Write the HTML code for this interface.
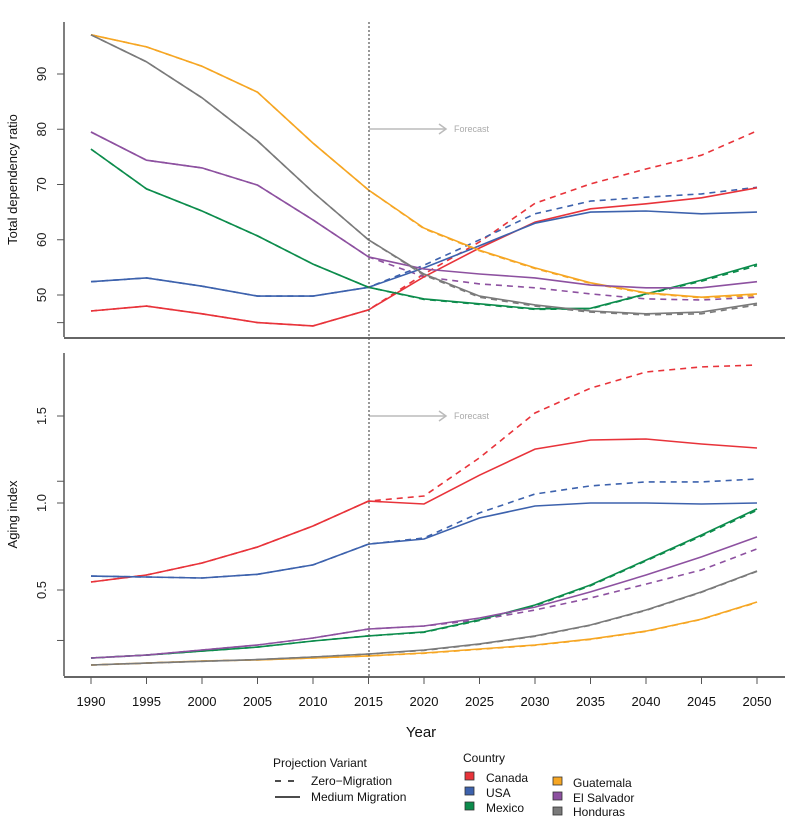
<!DOCTYPE html>
<html><head><meta charset="utf-8"><style>
body{margin:0;background:#fff;}
svg{display:block;font-family:"Liberation Sans",Arial,sans-serif;}
</style></head><body>
<svg id="chart" width="790" height="816" viewBox="0 0 790 816"></svg>
<script>
const years=[1990,1995,2000,2005,2010,2015,2020,2025,2030,2035,2040,2045,2050];
const countries=["Canada","USA","Mexico","Guatemala","El Salvador","Honduras"];
const colors=["#e8333a","#3d62ad","#0c8c4c","#f6a623","#8d51a0","#7a7a7a"];
const depMedium=[
[47.1,48.0,46.6,45.0,44.4,47.3,53.3,58.5,63.2,65.6,66.5,67.6,69.4],
[52.4,53.1,51.6,49.8,49.8,51.4,54.9,58.9,63.0,65.0,65.2,64.7,65.0],
[76.4,69.2,65.2,60.7,55.6,51.4,49.3,48.4,47.5,47.6,50.2,52.7,55.6],
[97.1,94.9,91.4,86.7,77.5,69.0,62.1,58.1,54.9,52.2,50.4,49.6,50.2],
[79.5,74.4,73.0,69.9,63.6,56.9,54.7,53.8,53.1,51.8,51.3,51.3,52.4],
[97.1,92.2,85.7,77.9,68.6,60.0,53.8,49.8,48.2,47.1,46.6,46.9,48.5]];
const depZero=[
[47.1,48.0,46.6,45.0,44.4,47.3,53.8,59.6,66.6,70.1,72.8,75.3,79.7],
[52.4,53.1,51.6,49.8,49.8,51.4,55.4,60.0,64.7,67.0,67.7,68.3,69.5],
[76.4,69.2,65.2,60.7,55.6,51.4,49.2,48.3,47.4,47.5,50.1,52.5,55.3],
[97.1,94.9,91.4,86.7,77.5,69.0,62.0,58.0,54.8,52.1,50.3,49.5,49.9],
[79.5,74.4,73.0,69.9,63.6,56.9,53.3,52.0,51.3,50.2,49.3,49.1,49.6],
[97.1,92.2,85.7,77.9,68.6,60.0,53.6,49.6,48.0,46.9,46.4,46.6,48.2]];
const ageMedium=[
[0.546,0.586,0.655,0.747,0.868,1.011,0.994,1.16,1.31,1.362,1.368,1.339,1.316],
[0.58,0.575,0.569,0.59,0.644,0.764,0.793,0.914,0.983,1.0,1.0,0.994,1.0],
[0.109,0.126,0.149,0.172,0.207,0.236,0.259,0.328,0.414,0.529,0.672,0.816,0.966],
[0.069,0.08,0.092,0.098,0.109,0.121,0.138,0.161,0.184,0.218,0.264,0.333,0.431],
[0.109,0.126,0.155,0.184,0.224,0.276,0.293,0.339,0.402,0.489,0.586,0.69,0.805],
[0.069,0.08,0.09,0.1,0.115,0.132,0.155,0.19,0.236,0.299,0.385,0.489,0.609]];
const ageZero=[
[0.546,0.586,0.655,0.747,0.868,1.011,1.04,1.26,1.517,1.66,1.753,1.782,1.793],
[0.58,0.575,0.569,0.59,0.644,0.764,0.799,0.943,1.052,1.098,1.121,1.121,1.138],
[0.109,0.126,0.149,0.172,0.207,0.236,0.257,0.325,0.41,0.524,0.667,0.81,0.958],
[0.069,0.08,0.092,0.098,0.109,0.121,0.136,0.159,0.182,0.216,0.262,0.331,0.429],
[0.109,0.126,0.155,0.184,0.224,0.276,0.293,0.328,0.385,0.454,0.534,0.615,0.736],
[0.069,0.08,0.09,0.1,0.115,0.132,0.153,0.188,0.234,0.297,0.383,0.487,0.607]];
const depTicks=[45,50,60,70,80,90];
const depLabels=["","50","60","70","80","90"];
const ageTicks=[0.21,0.5,1.0,1.125,1.5];
const ageLabels=["","0.5","1.0","","1.5"];

const NS="http://www.w3.org/2000/svg";
const svg=document.getElementById('chart');
function mk(tag,attrs,parent){const e=document.createElementNS(NS,tag);for(const k in attrs)e.setAttribute(k,attrs[k]);(parent||svg).appendChild(e);return e;}
const xS=y=>91+(y-1990)*(757-91)/60;
const yDep=v=>295-(v-50)*5.525;
const yAge=v=>503-(v-1)*174;

function drawPanel(name,yS,top,bottom,ticks,labels,title,med,zero){
  const g=mk('g',{});
  
  
  const ax=mk('line',{x1:64,y1:top,x2:64,y2:bottom,stroke:'#555','stroke-width':1.5},g);
  
  
  const bx=mk('line',{x1:64,y1:bottom+1,x2:785,y2:bottom+1,stroke:'#666','stroke-width':2},g);
  
  
  ticks.forEach((t,i)=>{
    const y=yS(t);
    mk('line',{x1:57,y1:y,x2:64,y2:y,stroke:'#555','stroke-width':1},g);
    if(labels[i]){const tx=mk('text',{x:46,y:y,'font-size':13,'text-anchor':'middle',transform:`rotate(-90 46 ${y})`,fill:'#222'},g);tx.textContent=labels[i];
      
      }
  });
  const ty=(top+bottom)/2;
  const tt=mk('text',{x:17,y:ty,'font-size':13,'text-anchor':'middle',transform:`rotate(-90 17 ${ty})`,fill:'#111'},g);
  tt.textContent=title;
  
  
  [zero,med].forEach((set,si)=>{
    set.forEach((vals,ci)=>{
      const d=vals.map((v,i)=>(i?'L':'M')+xS(years[i]).toFixed(1)+' '+yS(v).toFixed(1)).join(' ');
      const p=mk('path',{d:d,fill:'none',stroke:colors[ci],'stroke-width':1.6,'stroke-dasharray':si===0?'6 5':'none'},g);
      
      
    });
  });
  const ay=top===22?129:416;
  mk('line',{x1:369,y1:ay,x2:445,y2:ay,stroke:'#bbb','stroke-width':1.5},g);
  mk('path',{d:`M439 ${ay-5} L446 ${ay} L439 ${ay+5}`,fill:'none',stroke:'#bbb','stroke-width':1.5},g);
  const ft=mk('text',{x:454,y:ay+3,'font-size':9,fill:'#aaa'},g);
  ft.textContent='Forecast';
  
  
}
drawPanel('dependency',yDep,22,337,depTicks,depLabels,'Total dependency ratio',depMedium,depZero);
drawPanel('aging',yAge,353,676,ageTicks,ageLabels,'Aging index',ageMedium,ageZero);

const vl=mk('line',{x1:369,y1:22,x2:369,y2:677,stroke:'#555','stroke-width':1.2,'stroke-dasharray':'2 2'});



years.forEach(y=>{
  const x=xS(y);
  mk('line',{x1:x,y1:677,x2:x,y2:684,stroke:'#555','stroke-width':1});
  const t=mk('text',{x:x,y:706,'font-size':13,'text-anchor':'middle',fill:'#111'});
  t.textContent=y;
  
  
});
const xt=mk('text',{x:421,y:737,'font-size':15,'text-anchor':'middle',fill:'#111'});
xt.textContent='Year';


</script>
<svg style="position:absolute;left:0;top:0" width="790" height="816">
<g font-family="Liberation Sans, Arial, sans-serif" font-size="12" fill="#111">
<text x="273" y="767">Projection Variant</text>
<line x1="275" y1="781" x2="300" y2="781" stroke="#111" stroke-width="1.6" stroke-dasharray="6 7"/>
<text x="311" y="785">Zero−Migration</text>
<line x1="275" y1="797" x2="300" y2="797" stroke="#111" stroke-width="1.6"/>
<text x="311" y="801">Medium Migration</text>
<text x="463" y="762">Country</text>
<rect x="465" y="772" width="9" height="8" fill="#e8333a" stroke="#333" stroke-width="0.8"/>
<text x="486" y="782">Canada</text>
<rect x="465" y="787" width="9" height="8" fill="#3d62ad" stroke="#333" stroke-width="0.8"/>
<text x="486" y="797">USA</text>
<rect x="465" y="802" width="9" height="8" fill="#0c8c4c" stroke="#333" stroke-width="0.8"/>
<text x="486" y="812">Mexico</text>
<rect x="553" y="777" width="9" height="8" fill="#f6a623" stroke="#333" stroke-width="0.8"/>
<text x="573" y="787">Guatemala</text>
<rect x="553" y="792" width="9" height="8" fill="#8d51a0" stroke="#333" stroke-width="0.8"/>
<text x="573" y="802">El Salvador</text>
<rect x="553" y="807" width="9" height="8" fill="#7a7a7a" stroke="#333" stroke-width="0.8"/>
<text x="573" y="816">Honduras</text>
</g></svg>
</body></html>
